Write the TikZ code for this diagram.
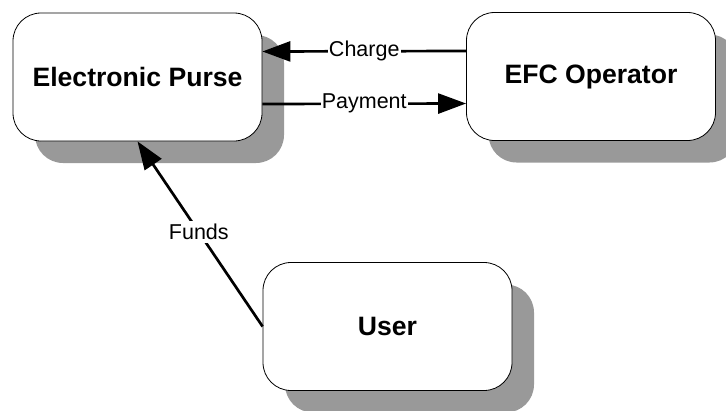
\documentclass[tikz,border=0pt]{standalone}
\usepackage{fontspec}
\setmainfont{Liberation Sans}
\usetikzlibrary{arrows.meta,shadows}
\definecolor{shadowgray}{HTML}{999999}
\tikzset{
  entity/.style={draw=black, line width=0.8pt, fill=white, rounded corners=28pt,
    minimum width=249pt, minimum height=128pt, inner sep=0pt,
    font=\fontsize{26.6}{30}\selectfont\bfseries,
    drop shadow={shadow xshift=22pt, shadow yshift=-22pt, fill=shadowgray, opacity=1}},
  flow/.style={line width=2.7pt, -{Triangle[length=28pt,width=20pt]}},
  flowlabel/.style={fill=white, inner sep=1pt, font=\fontsize{21.5}{24}\selectfont}
}
\begin{document}
\begin{tikzpicture}[x=1pt,y=-1pt]
  \path[use as bounding box] (0,0) rectangle (726,410);
  % the three parties
  \node[entity] (purse) at (137.5,77) {Electronic Purse};
  \node[entity] (efc)   at (591,76.5) {EFC Operator};
  \node[entity] (user)  at (387.5,326.5) {User};
  % money flows between them
  \draw[flow] ([yshift=25.5pt]efc.west) -- ([yshift=25.5pt]purse.east)
    node[flowlabel, midway] {Charge};
  \draw[flow] ([yshift=-27pt]purse.east) -- ([yshift=-27pt]efc.west)
    node[flowlabel, midway] {Payment};
  \draw[flow] (user.west) -- (purse.south)
    node[flowlabel, pos=0.51, inner sep=3pt] {Funds};
\end{tikzpicture}
\end{document}
